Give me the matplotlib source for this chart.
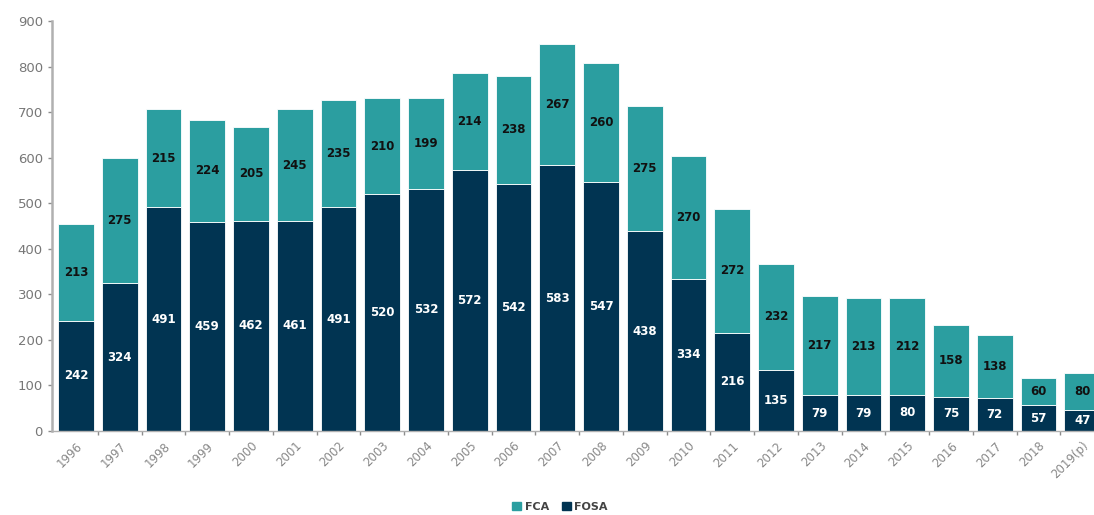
import numpy as np
import matplotlib.pyplot as plt
from matplotlib.patches import Patch

years = ['1996', '1997', '1998', '1999', '2000', '2001', '2002', '2003', '2004',
         '2005', '2006', '2007', '2008', '2009', '2010', '2011', '2012', '2013',
         '2014', '2015', '2016', '2017', '2018', '2019(p)']
fosa = [242, 324, 491, 459, 462, 461, 491, 520, 532, 572, 542, 583, 547, 438,
        334, 216, 135, 79, 79, 80, 75, 72, 57, 47]
fca = [213, 275, 215, 224, 205, 245, 235, 210, 199, 214, 238, 267, 260, 275,
       270, 272, 232, 217, 213, 212, 158, 138, 60, 80]

NAVY = '#013452'
TEAL = '#2b9ea0'
GRAY = '#8c8c8c'

fig = plt.figure(figsize=(10.94, 5.15), dpi=100)
ax = fig.add_axes([52 / 1094, 84 / 515, 1 - 52 / 1094, 410 / 515])

x = np.arange(len(years))
w = 0.82
ax.bar(x, fosa, width=w, color=NAVY, edgecolor='white', linewidth=0.6)
ax.bar(x, fca, width=w, bottom=fosa, color=TEAL, edgecolor='white', linewidth=0.6)

for xi, lo, hi in zip(x, fosa, fca):
    ax.text(xi, lo / 2, str(lo), ha='center', va='center', color='white',
            fontsize=8.5, fontweight='bold')
    ax.text(xi, lo + hi / 2, str(hi), ha='center', va='center', color='#111111',
            fontsize=8.5, fontweight='bold')

ax.set_xlim(-0.55, len(years) - 1 + 0.27)
ax.set_ylim(0, 900)
ax.set_yticks(range(0, 901, 100))
ax.tick_params(axis='y', colors=GRAY, labelsize=9.5, length=3, width=1)
ax.tick_params(axis='y', labelcolor='#777777')

ax.set_xticks(x)
ax.set_xticklabels(years, rotation=45, ha='right', rotation_mode='anchor',
                   color='#888888', fontsize=8.5)
ax.tick_params(axis='x', length=0, pad=6)
# small ticks between the bars
ax.set_xticks(x[:-1] + 0.5, minor=True)
ax.tick_params(axis='x', which='minor', length=3, color=GRAY, width=1)

for s in ['top', 'right']:
    ax.spines[s].set_visible(False)
ax.spines['left'].set_color('#b0b0b0')
ax.spines['left'].set_linewidth(1.8)
ax.spines['bottom'].set_color('#b0b0b0')
ax.spines['bottom'].set_linewidth(1.0)

handles = [Patch(color=TEAL, label='FCA'), Patch(color=NAVY, label='FOSA')]
leg = fig.legend(handles=handles, loc='center', bbox_to_anchor=(0.512, 0.016),
                 ncol=2, frameon=False, fontsize=8, handlelength=0.8,
                 handleheight=0.8, handletextpad=0.3, columnspacing=1.2)
for t in leg.get_texts():
    t.set_color('#444444')
    t.set_fontweight('bold')

fig.savefig('out.png', dpi=100)
